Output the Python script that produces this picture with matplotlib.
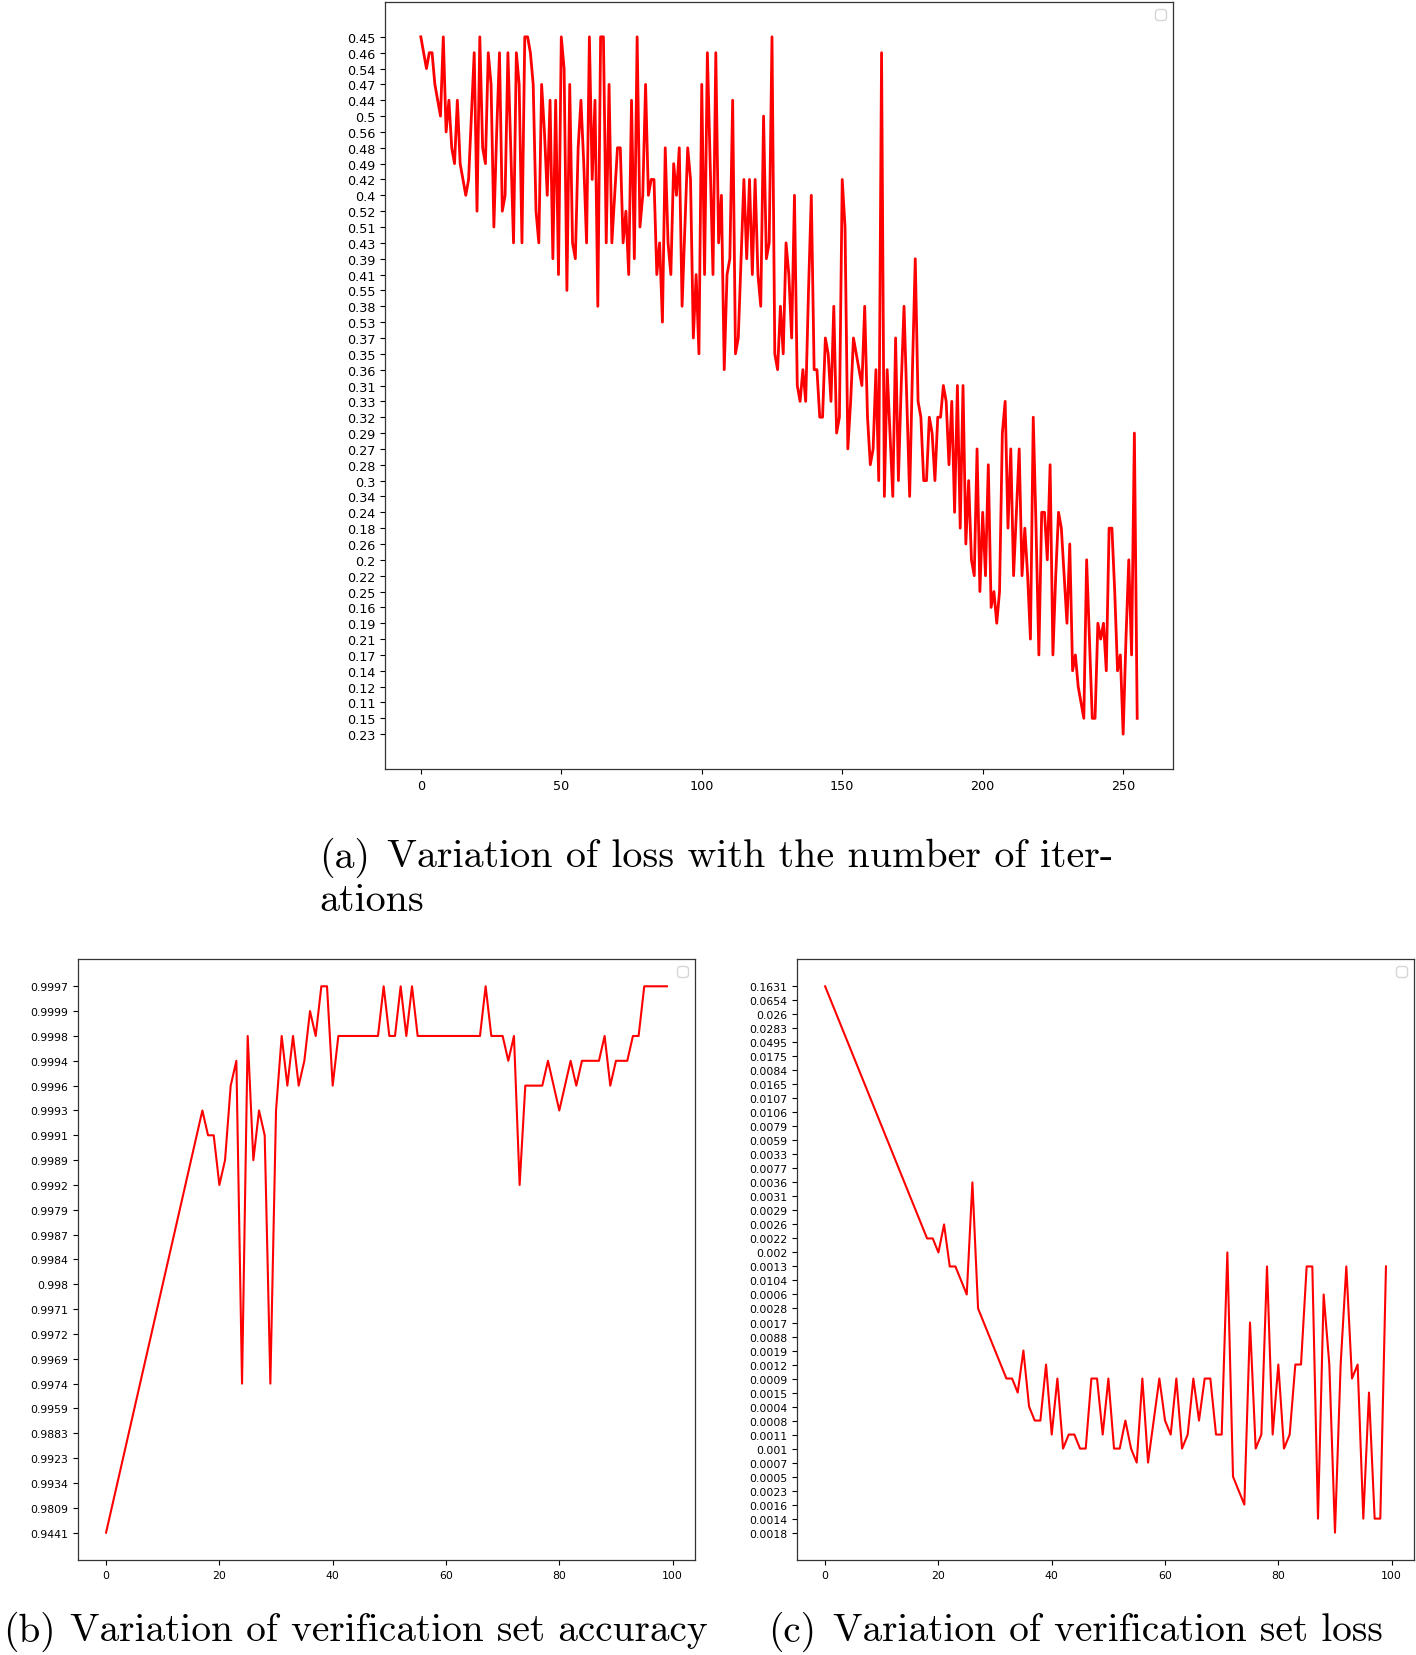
""" Training curves: loss per iteration, verification accuracy and loss per epoch. """

import numpy as np

from matplotlib import pyplot as plt

# (a) loss per iteration; tick labels top-down in order of first appearance
loss_labels = ['0.45', '0.46', '0.54', '0.47', '0.44', '0.5', '0.56', '0.48', '0.49',
               '0.42', '0.4', '0.52', '0.51', '0.43', '0.39', '0.41', '0.55', '0.38',
               '0.53', '0.37', '0.35', '0.36', '0.31', '0.33', '0.32', '0.29', '0.27',
               '0.28', '0.3', '0.34', '0.24', '0.18', '0.26', '0.2', '0.22', '0.25',
               '0.16', '0.19', '0.21', '0.17', '0.14', '0.12', '0.11', '0.15', '0.23']
loss = [0.45, 0.46, 0.54, 0.46, 0.46, 0.47, 0.44, 0.5, 0.45, 0.56,
        0.44, 0.48, 0.49, 0.44, 0.49, 0.42, 0.4, 0.42, 0.5, 0.46,
        0.52, 0.45, 0.48, 0.49, 0.46, 0.47, 0.51, 0.56, 0.46, 0.52,
        0.4, 0.46, 0.48, 0.43, 0.46, 0.47, 0.43, 0.45, 0.45, 0.46,
        0.47, 0.52, 0.43, 0.47, 0.56, 0.4, 0.44, 0.39, 0.44, 0.41,
        0.45, 0.54, 0.55, 0.47, 0.43, 0.39, 0.48, 0.44, 0.49, 0.43,
        0.45, 0.42, 0.44, 0.38, 0.45, 0.45, 0.43, 0.47, 0.43, 0.4,
        0.48, 0.48, 0.43, 0.52, 0.41, 0.44, 0.39, 0.45, 0.51, 0.4,
        0.47, 0.4, 0.42, 0.42, 0.41, 0.43, 0.53, 0.48, 0.43, 0.41,
        0.49, 0.4, 0.48, 0.38, 0.51, 0.48, 0.42, 0.37, 0.41, 0.35,
        0.47, 0.41, 0.46, 0.49, 0.41, 0.46, 0.43, 0.4, 0.36, 0.41,
        0.39, 0.44, 0.35, 0.37, 0.39, 0.42, 0.39, 0.42, 0.41, 0.42,
        0.41, 0.38, 0.5, 0.39, 0.43, 0.45, 0.35, 0.36, 0.38, 0.35,
        0.43, 0.41, 0.37, 0.4, 0.31, 0.33, 0.36, 0.33, 0.55, 0.4,
        0.36, 0.36, 0.32, 0.32, 0.37, 0.35, 0.33, 0.38, 0.29, 0.32,
        0.42, 0.51, 0.27, 0.33, 0.37, 0.35, 0.36, 0.31, 0.38, 0.32,
        0.28, 0.27, 0.36, 0.3, 0.46, 0.34, 0.36, 0.29, 0.34, 0.37,
        0.3, 0.31, 0.38, 0.33, 0.34, 0.36, 0.39, 0.33, 0.32, 0.3,
        0.3, 0.32, 0.29, 0.3, 0.32, 0.32, 0.31, 0.33, 0.28, 0.33,
        0.24, 0.31, 0.18, 0.31, 0.26, 0.3, 0.2, 0.22, 0.27, 0.25,
        0.24, 0.22, 0.28, 0.16, 0.25, 0.19, 0.25, 0.29, 0.33, 0.18,
        0.27, 0.22, 0.24, 0.27, 0.22, 0.18, 0.22, 0.21, 0.32, 0.18,
        0.17, 0.24, 0.24, 0.2, 0.28, 0.17, 0.22, 0.24, 0.18, 0.22,
        0.19, 0.26, 0.14, 0.17, 0.12, 0.11, 0.15, 0.2, 0.21, 0.15,
        0.15, 0.19, 0.21, 0.19, 0.14, 0.18, 0.18, 0.25, 0.14, 0.17,
        0.23, 0.21, 0.2, 0.17, 0.29, 0.15]

# (b) verification set accuracy; labels bottom-up in order of first appearance
acc_labels = ['0.9441', '0.9809', '0.9934', '0.9923', '0.9883', '0.9959', '0.9974',
              '0.9969', '0.9972', '0.9971', '0.998', '0.9984', '0.9987', '0.9979',
              '0.9992', '0.9989', '0.9991', '0.9993', '0.9996', '0.9994', '0.9998',
              '0.9999', '0.9997']
acc = [0.9441, 0.9809, 0.9934, 0.9923, 0.9883, 0.9959, 0.9974, 0.9969, 0.9972, 0.9971,
       0.998, 0.9984, 0.9987, 0.9979, 0.9992, 0.9989, 0.9991, 0.9993, 0.9991, 0.9991,
       0.9992, 0.9989, 0.9996, 0.9994, 0.9974, 0.9998, 0.9989, 0.9993, 0.9991, 0.9974,
       0.9993, 0.9998, 0.9996, 0.9998, 0.9996, 0.9994, 0.9999, 0.9998, 0.9997, 0.9997,
       0.9996, 0.9998, 0.9998, 0.9998, 0.9998, 0.9998, 0.9998, 0.9998, 0.9998, 0.9997,
       0.9998, 0.9998, 0.9997, 0.9998, 0.9997, 0.9998, 0.9998, 0.9998, 0.9998, 0.9998,
       0.9998, 0.9998, 0.9998, 0.9998, 0.9998, 0.9998, 0.9998, 0.9997, 0.9998, 0.9998,
       0.9998, 0.9994, 0.9998, 0.9992, 0.9996, 0.9996, 0.9996, 0.9996, 0.9994, 0.9996,
       0.9993, 0.9996, 0.9994, 0.9996, 0.9994, 0.9994, 0.9994, 0.9994, 0.9998, 0.9996,
       0.9994, 0.9994, 0.9994, 0.9998, 0.9998, 0.9997, 0.9997, 0.9997, 0.9997, 0.9997]

# (c) verification set loss; labels top-down in order of first appearance
vloss_labels = ['0.1631', '0.0654', '0.026', '0.0283', '0.0495', '0.0175', '0.0084',
                '0.0165', '0.0107', '0.0106', '0.0079', '0.0059', '0.0033', '0.0077',
                '0.0036', '0.0031', '0.0029', '0.0026', '0.0022', '0.002', '0.0013',
                '0.0104', '0.0006', '0.0028', '0.0017', '0.0088', '0.0019', '0.0012',
                '0.0009', '0.0015', '0.0004', '0.0008', '0.0011', '0.001', '0.0007',
                '0.0005', '0.0023', '0.0016', '0.0014', '0.0018']
vloss = [0.1631, 0.0654, 0.026, 0.0283, 0.0495, 0.0175, 0.0084, 0.0165, 0.0107, 0.0106,
         0.0079, 0.0059, 0.0033, 0.0077, 0.0036, 0.0031, 0.0029, 0.0026, 0.0022, 0.0022,
         0.002, 0.0026, 0.0013, 0.0013, 0.0104, 0.0006, 0.0036, 0.0028, 0.0017, 0.0088,
         0.0019, 0.0012, 0.0009, 0.0009, 0.0015, 0.0019, 0.0004, 0.0008, 0.0008, 0.0012,
         0.0011, 0.0009, 0.001, 0.0011, 0.0011, 0.001, 0.001, 0.0009, 0.0009, 0.0011,
         0.0009, 0.001, 0.001, 0.0008, 0.001, 0.0007, 0.0009, 0.0007, 0.0008, 0.0009,
         0.0008, 0.0011, 0.0009, 0.001, 0.0011, 0.0009, 0.0008, 0.0009, 0.0009, 0.0011,
         0.0011, 0.002, 0.0005, 0.0023, 0.0016, 0.0017, 0.001, 0.0011, 0.0013, 0.0011,
         0.0012, 0.001, 0.0011, 0.0012, 0.0012, 0.0013, 0.0013, 0.0014, 0.0006, 0.0012,
         0.0018, 0.0012, 0.0013, 0.0009, 0.0012, 0.0014, 0.0015, 0.0014, 0.0014, 0.0013]


def curve(ax, values, labels, lw, fs, top_first):
    # Register category order first, then plot the string values
    ax.yaxis.update_units(labels)
    ax.plot(np.arange(len(values)), [str(v) for v in values], color='red', lw=lw)
    if top_first:
        ax.invert_yaxis()
    ax.tick_params(labelsize=fs, length=3.5, width=0.8)
    for sp in ax.spines.values():
        sp.set_linewidth(0.9)
        sp.set_color('#333333')
    ax.legend(loc='upper right')


fig = plt.figure(figsize=(14.16, 16.56), dpi=100)

ax_a = fig.add_axes([0.2719, 0.5350, 0.5565, 0.4632])
curve(ax_a, loss, loss_labels, 2.0, 9.2, True)

ax_b = fig.add_axes([0.0551, 0.0574, 0.4357, 0.3629])
curve(ax_b, acc, acc_labels, 1.5, 7.8, False)

ax_c = fig.add_axes([0.5629, 0.0574, 0.4357, 0.3629])
curve(ax_c, vloss, vloss_labels, 1.5, 7.8, True)

# Captions: sub-figure label, then the caption body
cap = dict(fontfamily='cmr10', fontsize=28.8, va='center', ha='left')
fig.text(0.2252, 0.4822, '(a)', **cap)
fig.text(0.2730, 0.4822, 'Variation of loss with the number of iter-', **cap)
fig.text(0.2252, 0.4560, 'ations', **cap)
cap['fontsize'] = 28.3
fig.text(0.0022, 0.0148, '(b)', **cap)
fig.text(0.0492, 0.0148, 'Variation of verification set accuracy', **cap)
fig.text(0.5422, 0.0148, '(c)', **cap)
fig.text(0.5884, 0.0148, 'Variation of verification set loss', **cap)

plt.savefig('out.png', dpi=100)
print('Saved: out.png')
